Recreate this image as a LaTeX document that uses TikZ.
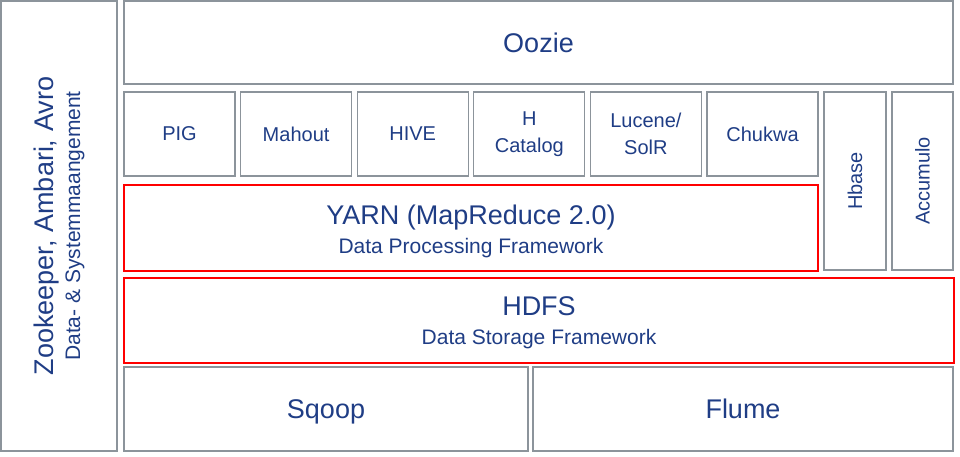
\documentclass[tikz,border=0pt]{standalone}
\usepackage{fontspec}
\setmainfont{Liberation Sans}
\usetikzlibrary{positioning}
\definecolor{hadoopblue}{RGB}{31,61,133}
\definecolor{framegray}{RGB}{140,148,155}

\begin{document}
\begin{tikzpicture}[x=1pt,y=1pt,node distance=5.6pt,
  box node/.style={draw=framegray,line width=1.3pt,inner sep=0pt,outer sep=0pt,
    text=hadoopblue,align=center},
  tool node/.style={box node,minimum width=111pt,minimum height=84pt,
    font=\fontsize{20}{27}\selectfont},
  store node/.style={box node,rotate=90,minimum width=178pt,
    font=\fontsize{20}{27}\selectfont},
  core node/.style={box node,draw=red,line width=2.4pt,
    font=\fontsize{21}{29.5}\selectfont},
  big/.style={font=\fontsize{27}{32}\selectfont,text height=21pt,text depth=1pt}]

  \useasboundingbox (0,0) rectangle (960,457);

  \node[box node, rotate=90, minimum width=450pt, minimum height=116pt,
    font=\fontsize{21}{27}\selectfont] (admin) at (59,231)
    {{\fontsize{27}{27}\selectfont Zookeeper, Ambari, Avro}\\Data- \& Systemmaangement};
  \node[box node, big, minimum width=829pt, minimum height=83pt] (oozie) at (538.5,414.5) {Oozie};

  \node[tool node] (pig) at (179.5,323) {PIG};
  \node[tool node] (mahout) [right=of pig] {Mahout};
  \node[tool node] (hive) [right=of mahout] {HIVE};
  \node[tool node] (hcatalog) [right=of hive] {H\\Catalog};
  \node[tool node] (lucene) [right=of hcatalog] {Lucene/\\SolR};
  \node[tool node] (chukwa) [right=of lucene] {Chukwa};
  \node[store node, minimum height=62pt] (hbase) at (855,276) {Hbase};
  \node[store node, minimum height=61pt] (accumulo) at (922.5,276) {Accumulo};

  \node[core node, minimum width=694pt, minimum height=86pt] (yarn) at (471,229)
    {{\fontsize{27}{27}\selectfont\rule{0pt}{26pt}YARN (MapReduce 2.0)}\\Data Processing Framework};
  \node[core node, minimum width=830pt, minimum height=85pt] (hdfs) at (539,136.5)
    {{\fontsize{27}{27}\selectfont\rule{0pt}{23pt}HDFS}\\Data Storage Framework};

  \node[box node, big, minimum width=404pt, minimum height=84pt] (sqoop) at (326,48) {Sqoop};
  \node[box node, big, minimum width=420pt, minimum height=84pt] (flume) [right=5pt of sqoop] {Flume};
\end{tikzpicture}
\end{document}
